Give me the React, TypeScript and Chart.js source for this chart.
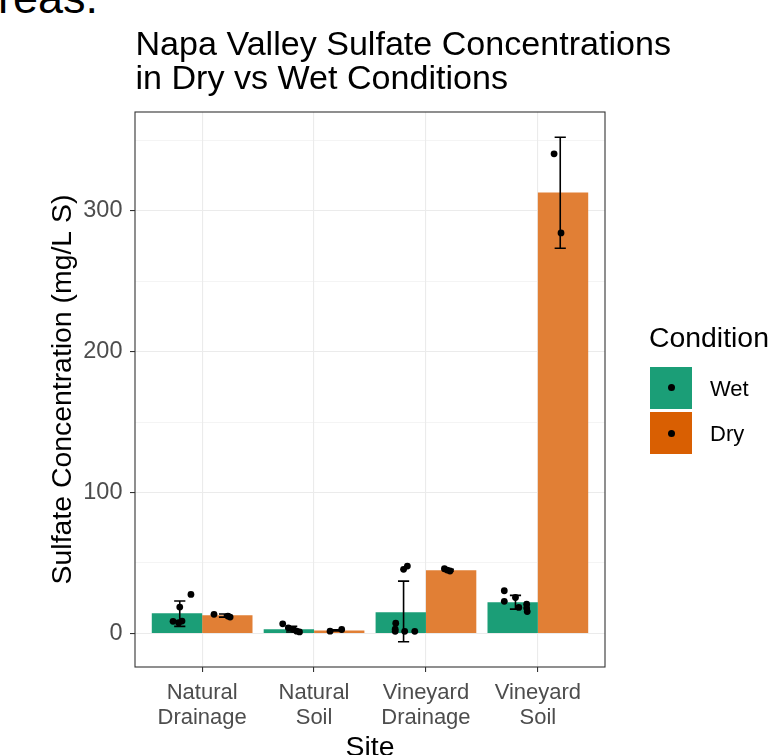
import React, { useEffect, useRef } from "react";
import { Chart, registerables } from "chart.js";

Chart.register(...registerables);

const FONT = "'Liberation Sans', Arial, Helvetica, sans-serif";

// ---- data ----
const titleLines = ["Napa Valley Sulfate Concentrations", "in Dry vs Wet Conditions"];
const siteLabels = [
  ["Natural", "Drainage"],
  ["Natural", "Soil"],
  ["Vineyard", "Drainage"],
  ["Vineyard", "Soil"],
];
const conditions = ["Wet", "Dry"];

const wetMean = [14.4, 3.0, 15.1, 22.2];
const dryMean = [13.0, 2.1, 44.9, 312.8];

const wetLow = [5.0, 1.0, -5.9, 17.3];
const wetHigh = [23.0, 5.0, 37.1, 27.0];
const dryLow = [11.6, 1.7, 44.3, 273.3];
const dryHigh = [13.8, 2.6, 45.6, 352.1];

// individual observations (jitter offset from the site centre, value)
const wetJitter = [
  [-0.1, -0.2, -0.26, -0.21, -0.18],
  [-0.28, -0.23, -0.185, -0.155, -0.13],
  [-0.2, -0.166, -0.27, -0.275, -0.275, -0.19, -0.1],
  [-0.3, -0.3, -0.2, -0.17, -0.1, -0.1, -0.095],
];
const wetObs = [
  [27.7, 18.7, 8.6, 7.6, 8.8],
  [6.8, 4.0, 2.8, 1.6, 1.1],
  [45.5, 47.8, 7.3, 3.0, 1.5, 1.5, 1.5],
  [30.3, 22.8, 25.5, 18.5, 20.8, 18.0, 15.5],
];
const dryJitter = [
  [0.106, 0.23, 0.25],
  [0.143, 0.247],
  [0.165, 0.19, 0.215],
  [0.145, 0.207],
];
const dryObs = [
  [13.6, 12.3, 11.6],
  [1.6, 2.8],
  [45.9, 45.0, 44.3],
  [340.3, 284.2],
];

const yMajorTicks = [0, 100, 200, 300];
const yMinorTicks = [50, 150, 250, 350];
const yMin = -23.8;
const yMax = 370;

const wetBarColor = "#1B9E77";
const dryBarColor = "#E17F35";
const wetKeyColor = "#1B9E77";
const dryKeyColor = "#D95F02";

const DODGE_ERR = 0.2;
const ERR_HALF = 0.05;

const points = (jit: number[][], obs: number[][]) =>
  obs.flatMap((vals, i) => vals.map((v, k) => ({ x: i + jit[i][k], y: v })));

const errorBarPlugin = {
  id: "errorBars",
  afterDatasetDraw(chart: any, args: any) {
    if (args.index !== 0) return;
    const { ctx } = chart;
    const xs = chart.scales.x;
    const ys = chart.scales.y;
    ctx.save();
    ctx.strokeStyle = "#000000";
    ctx.lineWidth = 1.6;
    const draw = (lows: number[], highs: number[], dodge: number) => {
      lows.forEach((lo, i) => {
        const hi = highs[i];
        const cx = xs.getPixelForValue(i + dodge);
        const x0 = xs.getPixelForValue(i + dodge - ERR_HALF);
        const x1 = xs.getPixelForValue(i + dodge + ERR_HALF);
        const y0 = ys.getPixelForValue(lo);
        const y1 = ys.getPixelForValue(hi);
        ctx.beginPath();
        ctx.moveTo(cx, y0);
        ctx.lineTo(cx, y1);
        ctx.moveTo(x0, y0);
        ctx.lineTo(x1, y0);
        ctx.moveTo(x0, y1);
        ctx.lineTo(x1, y1);
        ctx.stroke();
      });
    };
    draw(wetLow, wetHigh, -DODGE_ERR);
    draw(dryLow, dryHigh, DODGE_ERR);
    ctx.restore();
  },
};

const panelBorderPlugin = {
  id: "panelBorder",
  afterDraw(chart: any) {
    const { ctx, chartArea: a } = chart;
    ctx.save();
    ctx.strokeStyle = "#333333";
    ctx.lineWidth = 1.1;
    ctx.strokeRect(a.left, a.top, a.right - a.left, a.bottom - a.top);
    ctx.restore();
  },
};

export default function App() {
  const ref = useRef<HTMLCanvasElement | null>(null);

  useEffect(() => {
    if (!ref.current) return;
    Chart.defaults.font.family = FONT;
    const chart = new Chart(ref.current, {
      type: "bar",
      data: {
        datasets: [
          {
            type: "bar",
            label: conditions[0],
            data: wetMean.map((v, i) => ({ x: i, y: v })),
            backgroundColor: wetBarColor,
            borderWidth: 0,
            categoryPercentage: 0.9,
            barPercentage: 1,
            order: 2,
          },
          {
            type: "bar",
            label: conditions[1],
            data: dryMean.map((v, i) => ({ x: i, y: v })),
            backgroundColor: dryBarColor,
            borderWidth: 0,
            categoryPercentage: 0.9,
            barPercentage: 1,
            order: 2,
          },
          {
            type: "scatter",
            label: conditions[0] + " obs",
            data: points(wetJitter, wetObs),
            backgroundColor: "#000000",
            borderWidth: 0,
            pointRadius: 3.4,
            order: 1,
          },
          {
            type: "scatter",
            label: conditions[1] + " obs",
            data: points(dryJitter, dryObs),
            backgroundColor: "#000000",
            borderWidth: 0,
            pointRadius: 3.4,
            order: 1,
          },
        ] as any,
      },
      options: {
        responsive: false,
        animation: false,
        layout: { padding: { left: 0, right: 169, top: 112, bottom: 0 } },
        plugins: {
          legend: { display: false },
          tooltip: { enabled: false },
          title: { display: false },
        },
        scales: {
          x: {
            type: "linear",
            min: -0.6,
            max: 3.6,
            offset: false,
            afterBuildTicks: (s: any) => {
              s.ticks = siteLabels.map((_, i) => ({ value: i }));
            },
            afterFit: (s: any) => {
              s.height = 88;
            },
            ticks: {
              autoSkip: false,
              maxRotation: 0,
              minRotation: 0,
              padding: 8.3,
              color: "#4D4D4D",
              font: { family: FONT, size: 22, lineHeight: 1.15 },
              callback: (v: any) => siteLabels[v as number] ?? "",
            },
            grid: {
              offset: false,
              color: "#EBEBEB",
              lineWidth: 1.1,
              tickColor: "#333333",
              tickLength: 5,
              tickWidth: 1.1,
            },
            border: { display: false },
            title: {
              display: true,
              text: "Site",
              color: "#000000",
              font: { family: FONT, size: 28.4, lineHeight: 0.458 },
              padding: 0,
            },
          },
          y: {
            type: "linear",
            min: yMin,
            max: yMax,
            afterBuildTicks: (s: any) => {
              s.ticks = [...yMajorTicks, ...yMinorTicks]
                .sort((a, b) => a - b)
                .map((v) => ({ value: v }));
            },
            afterFit: (s: any) => {
              s.width = 135;
            },
            ticks: {
              autoSkip: false,
              padding: 7.5,
              color: "#4D4D4D",
              font: { family: FONT, size: 23.5 },
              callback: (v: any) => (yMajorTicks.includes(v as number) ? String(v) : ""),
            },
            grid: {
              color: "#EBEBEB",
              lineWidth: (c: any) => (c.tick && yMajorTicks.includes(c.tick.value) ? 1.1 : 0.55),
              tickColor: (c: any) =>
                c.tick && yMajorTicks.includes(c.tick.value) ? "#333333" : "rgba(0,0,0,0)",
              tickLength: 5,
              tickWidth: 1.1,
            },
            border: { display: false },
            title: {
              display: true,
              text: "Sulfate Concentration (mg/L S)",
              color: "#000000",
              font: { family: FONT, size: 28.4, lineHeight: 1 },
              padding: { top: 48.8, bottom: 0 },
            },
          },
        },
      } as any,
      plugins: [errorBarPlugin, panelBorderPlugin],
    });
    return () => chart.destroy();
  }, []);

  const keyStyle = (color: string, top: number): React.CSSProperties => ({
    position: "absolute",
    left: 650,
    top,
    width: 42,
    height: 42,
    background: color,
  });
  const dotStyle: React.CSSProperties = {
    position: "absolute",
    left: 17.5,
    top: 17.5,
    width: 7,
    height: 7,
    borderRadius: "50%",
    background: "#000000",
  };
  const textStyle = (top: number, size: number, lh: number = size): React.CSSProperties => ({
    position: "absolute",
    top,
    fontFamily: FONT,
    fontSize: size,
    lineHeight: `${lh}px`,
    color: "#000000",
    whiteSpace: "nowrap",
  });

  return (
    <div
      style={{
        position: "absolute",
        left: 0,
        top: 0,
        width: 774,
        height: 755,
        overflow: "hidden",
        background: "#ffffff",
      }}
    >
      <div style={{ ...textStyle(-25.5, 45), left: -2 }}>reas.</div>
      <canvas ref={ref} width={774} height={755} style={{ position: "absolute", left: 0, top: 0 }} />
      <div style={{ ...textStyle(25.7, 34.1, 34), left: 135.5 }}>
        {titleLines.map((t) => (
          <div key={t}>{t}</div>
        ))}
      </div>
      <div style={{ ...textStyle(323, 28.4), left: 649 }}>Condition</div>
      <div style={keyStyle(wetKeyColor, 366.5)}>
        <div style={dotStyle} />
      </div>
      <div style={keyStyle(dryKeyColor, 412.3)}>
        <div style={dotStyle} />
      </div>
      <div style={{ ...textStyle(378.1, 22), left: 710 }}>{conditions[0]}</div>
      <div style={{ ...textStyle(423.1, 22), left: 710 }}>{conditions[1]}</div>
    </div>
  );
}
